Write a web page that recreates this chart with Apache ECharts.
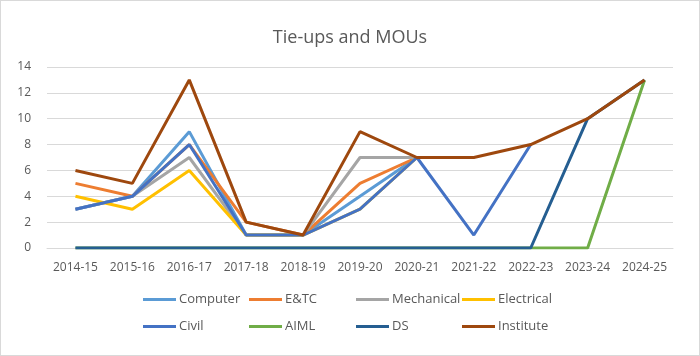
<!DOCTYPE html>
<html><head><meta charset="utf-8">
<script src="https://cdn.jsdelivr.net/npm/echarts@6/dist/echarts.min.js"></script>
<style>html,body{margin:0;padding:0;background:#fff}#c{width:700px;height:356px;box-sizing:border-box;border:1px solid #d9d9d9}</style>
</head><body><div id="c"></div>
<script>
const categories = ['2014-15','2015-16','2016-17','2017-18','2018-19','2019-20','2020-21','2021-22','2022-23','2023-24','2024-25'];
const computer   = [3,4,9,1,1,4,7,null,null,null,null];
const etc        = [5,4,8,2,1,5,7,null,null,null,null];
const mechanical = [3,4,7,1,1,7,7,null,null,null,null];
const electrical = [4,3,6,1,1,3,7,null,null,null,null];
const civil      = [3,4,8,1,1,3,7,1,8,null,null];
const aiml       = [0,0,0,0,0,0,0,0,0,0,13];
const ds         = [0,0,0,0,0,0,0,0,0,10,13];
const institute  = [6,5,13,2,1,9,7,7,8,10,13];
const yTicks = [0,2,4,6,8,10,12,14];

const names = ['Computer','E&TC','Mechanical','Electrical','Civil','AIML','DS','Institute'];
const datas = [computer,etc,mechanical,electrical,civil,aiml,ds,institute];
const colors = ['#5B9BD5','#ED7D31','#A5A5A5','#FFC000','#4472C4','#70AD47','#255E91','#9E480E'];
const font = 'Open Sans, sans-serif';
const legX = [142,248,355,461];
const legY = [292,319];
const legends = names.map((n,i)=>({
  data:[n], left: legX[i%4], top: legY[Math.floor(i/4)],
  itemWidth:33, itemHeight:3, itemGap:0, padding:0,
  icon:'rect',
  textStyle:{color:'#595959', fontSize:13, fontFamily:font, padding:[0,0,0,-2]}
}));
const chart = echarts.init(document.getElementById('c'));
chart.setOption({
  animation:false,
  title:{text:'Tie-ups and MOUs', left:'center', top:23, textStyle:{color:'#595959', fontSize:18, fontWeight:'normal', fontFamily:font}},
  legend: legends,
  grid:{left:46, right:26, top:66, bottom:107},
  xAxis:{type:'category', data:categories, boundaryGap:true,
    axisLine:{show:true, lineStyle:{color:'#d9d9d9'}}, axisTick:{show:false},
    axisLabel:{color:'#595959', fontSize:12, fontFamily:font, margin:14, interval:0}},
  yAxis:{type:'value', min:yTicks[0], max:yTicks[yTicks.length-1], interval:2,
    axisLine:{show:false}, axisTick:{show:false},
    splitLine:{lineStyle:{color:'#d9d9d9'}},
    axisLabel:{color:'#595959', fontSize:12, fontFamily:font, margin:16}},
  series: names.map((n,i)=>({
    name:n, type:'line', data:datas[i], symbol:'none', connectNulls:false,
    itemStyle:{color:colors[i]},
    lineStyle:{color:colors[i], width:3}, z: 2+i
  }))
});
</script></body></html>
